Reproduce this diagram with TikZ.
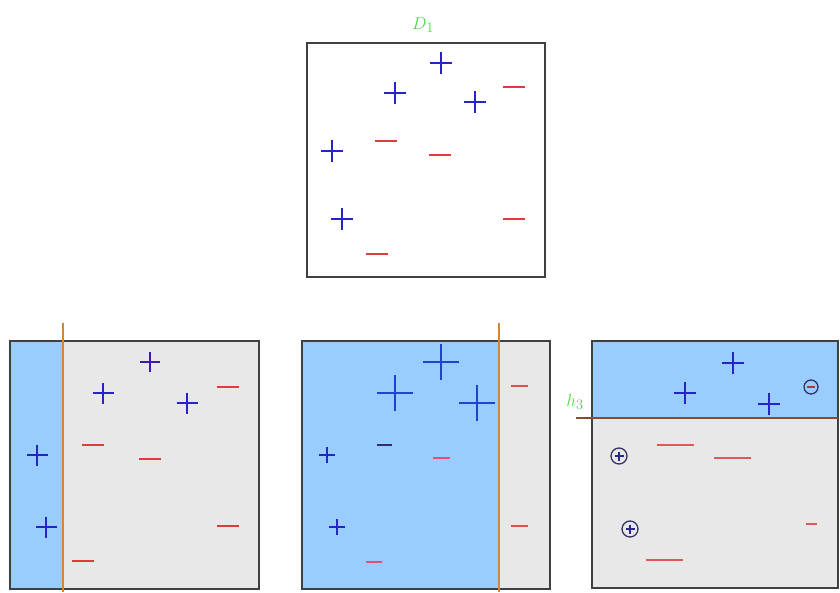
\documentclass[tikz,border=0pt]{standalone}
\definecolor{pblue}{HTML}{2424C8}
\definecolor{mred}{HTML}{E03A3A}
\definecolor{mpink}{HTML}{E05070}
\definecolor{regblue}{HTML}{99CCFF}
\definecolor{reggray}{HTML}{E8E8E8}
\definecolor{boxedge}{HTML}{404040}
\definecolor{lblgreen}{HTML}{44DD44}
\definecolor{splitor}{HTML}{D08838}
\definecolor{splitbr}{HTML}{8A4A30}
\newcommand{\mkplus}[4][pblue]{\draw[#1,line width=1.6pt] (#2-#4/2,#3) -- (#2+#4/2,#3) (#2,#3-#4/2) -- (#2,#3+#4/2);}
\newcommand{\mkminus}[4][mred]{\draw[#1,line width=1.6pt] (#2-#4/2,#3) -- (#2+#4/2,#3);}
\tikzset{
  boxline/.style={draw=boxedge,line width=1.5pt},
  splitline/.style={draw=splitor,line width=1.3pt},
  lbl/.style={text=lblgreen,font=\fontsize{19}{21}\selectfont,inner sep=0pt},
  circ/.style={draw=boxedge!80!blue,line width=1.3pt}
}
\begin{document}
\begin{tikzpicture}[x=1pt,y=-1pt]
\useasboundingbox (0,0) rectangle (840,593);
% top box
\draw[boxline] (307,43) rectangle (545,277);
\node[lbl] (d1) at (423,25) {$D_1$};
\mkplus{441}{63}{22}
\mkplus{395}{93}{22}
\mkplus{475}{102}{22}
\mkminus{514}{87}{22}
\mkplus{332}{151}{22}
\mkminus{386}{141}{22}
\mkminus{440}{155}{22}
\mkplus{342}{219}{22}
\mkminus{514}{219}{22}
\mkminus{377}{254}{22}
% bottom left
\fill[regblue] (10,341) rectangle (63,589);
\fill[reggray] (63,341) rectangle (259,589);
\draw[boxline] (10,341) rectangle (259,589);
\draw[splitline] (63,323) -- (63,592);
\mkplus[pblue!70!violet]{150}{362}{20}
\mkplus{103}{393}{21}
\mkplus{187}{403}{21}
\mkminus{228}{387}{22}
\mkplus{37}{455}{21}
\mkminus{93}{445}{22}
\mkminus{150}{459}{22}
\mkplus{46}{527}{21}
\mkminus{228}{526}{22}
\mkminus{83}{561}{22}
% bottom middle
\fill[regblue] (302,341) rectangle (499,589);
\fill[reggray] (499,341) rectangle (550,589);
\draw[boxline] (302,341) rectangle (550,589);
\draw[splitline] (499,323) -- (499,592);
\mkplus[pblue!85!cyan]{441}{362}{36}
\mkplus[pblue!85!cyan]{395}{393}{36}
\mkplus[pblue!85!cyan]{477}{403}{36}
\mkplus{327}{455}{16}
\mkplus{337}{527}{16}
\mkminus[boxedge!70!blue]{384}{445}{15}
\mkminus[mpink]{441}{458}{17}
\mkminus[mred!90!white]{519}{386}{17}
\mkminus[mred!90!white]{519}{526}{17}
\mkminus[mpink]{374}{562}{16}
% bottom right
\fill[regblue] (592,341) rectangle (838,418);
\fill[reggray] (592,418) rectangle (838,588);
\draw[boxline] (592,341) rectangle (838,588);
\draw[draw=splitbr,line width=1.3pt] (576,418) -- (838,418);
\node[lbl] (h3) at (575,402) {$h_3$};
\mkplus{733}{363}{22}
\mkplus{685}{393}{22}
\mkplus{769}{404}{22}
\draw[circ] (811,387) circle (7);
\mkminus[mred!60!boxedge]{811}{387}{8}
\draw[circ] (619,456) circle (8);
\mkplus[boxedge!60!blue]{619}{456}{9}
\draw[circ] (630,529) circle (8);
\mkplus[boxedge!60!blue]{630}{529}{9}
\mkminus[mred!85!white]{675}{445}{37}
\mkminus[mred!85!white]{732}{458}{37}
\mkminus[mred!85!white]{811}{524}{11}
\mkminus[mred!85!white]{664}{560}{37}
\end{tikzpicture}
\end{document}
